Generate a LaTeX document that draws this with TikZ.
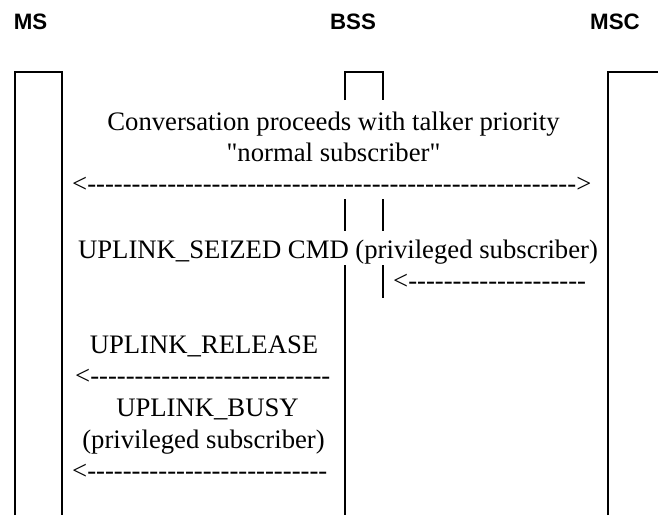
\documentclass[tikz,border=0pt]{standalone}
\usepackage{fontspec}
\setmainfont{Liberation Serif}[Ligatures=TeXOff]
\newfontfamily\lblfont{Liberation Sans}[Ligatures=TeXOff]
\begin{document}
\begin{tikzpicture}[x=1pt,y=1pt,
  ent/.style={font=\lblfont\fontsize{22.3}{26}\selectfont\bfseries, inner sep=0pt, anchor=base},
  msg/.style={font=\fontsize{26.7}{32}\selectfont, inner sep=0pt, anchor=base},
  arr/.style={font=\fontsize{26.7}{32}\selectfont, inner sep=0pt, anchor=base west},
  life/.style={line width=2pt}]
\useasboundingbox (0,0) rectangle (658,-515);
% entity labels
\node[ent] (ms) at (30.5,-29) {MS};
\node[ent] (bss) at (353,-29) {BSS};
\node[ent] (msc) at (615,-29) {MSC};
% lifelines
\draw[life] (15,-515) -- (15,-72) -- (62,-72) -- (62,-515);
\draw[life] (345,-100) -- (345,-72) -- (383,-72) -- (383,-100);
\draw[life] (345,-199) -- (345,-231);
\draw[life] (383,-199) -- (383,-231);
\draw[life] (345,-265) -- (345,-515);
\draw[life] (383,-265) -- (383,-298);
\draw[life] (608,-515) -- (608,-72) -- (658,-72);
% messages
\node[msg] (t1) at (333.5,-130) {Conversation proceeds with talker priority};
\node[msg] (t2) at (333.5,-161) {"normal subscriber"};
\node[arr] (a1) at (72,-192) {<------------------------------------------------------->};
\node[msg] (t3) at (338,-258) {UPLINK\_SEIZED CMD (privileged subscriber)};
\node[arr] (a2) at (393,-289) {<--------------------};
\node[msg] (t4) at (204,-353) {UPLINK\_RELEASE};
\node[arr] (a3) at (75,-384) {<---------------------------};
\node[msg] (t5) at (207.5,-416) {UPLINK\_BUSY};
\node[msg] (t6) at (203.5,-448) {(privileged subscriber)};
\node[arr] (a4) at (72,-479) {<---------------------------};
\end{tikzpicture}
\end{document}
